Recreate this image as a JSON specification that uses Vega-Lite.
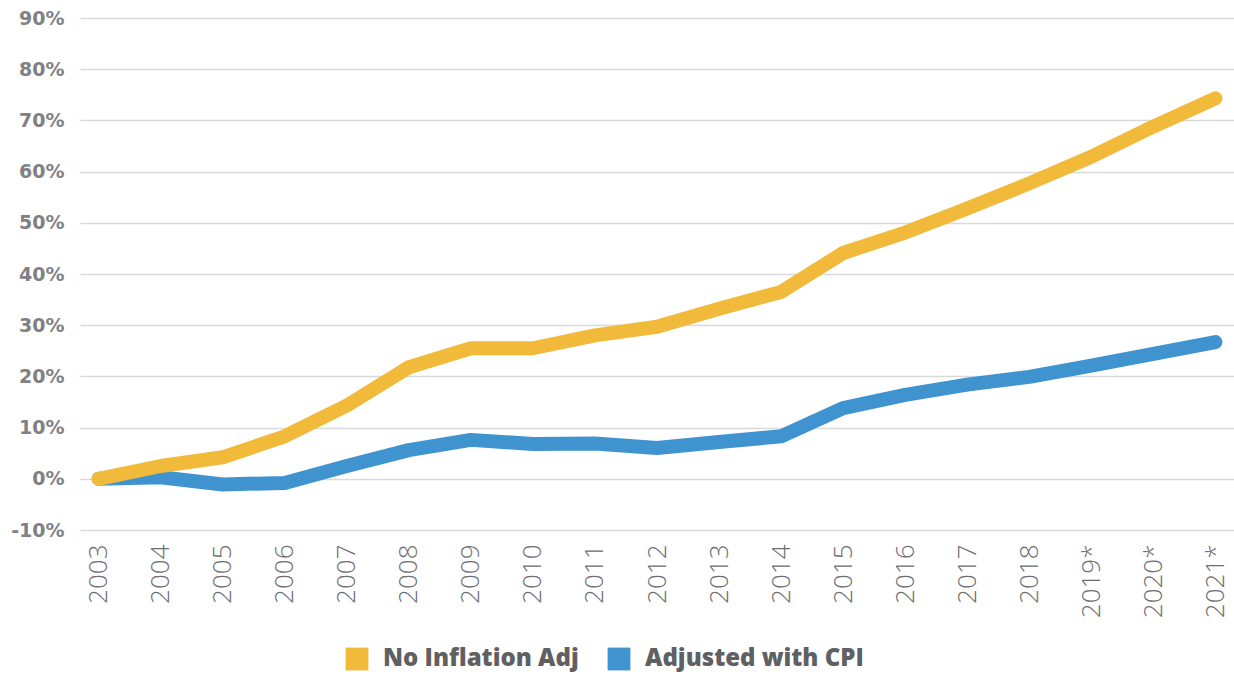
{
  "$schema": "https://vega.github.io/schema/vega-lite/v6.json",
  "width": 1154,
  "height": 512,
  "autosize": "none",
  "padding": {"left": 80, "top": 18, "right": 0, "bottom": 146},
  "background": "white",
  "config": {"view": {"stroke": null}, "font": "Open Sans"},
  "data": {"values": [
    {"year": "2003", "series": "No Inflation Adj", "value": 0.0},
    {"year": "2004", "series": "No Inflation Adj", "value": 0.025},
    {"year": "2005", "series": "No Inflation Adj", "value": 0.042},
    {"year": "2006", "series": "No Inflation Adj", "value": 0.083},
    {"year": "2007", "series": "No Inflation Adj", "value": 0.143},
    {"year": "2008", "series": "No Inflation Adj", "value": 0.218},
    {"year": "2009", "series": "No Inflation Adj", "value": 0.255},
    {"year": "2010", "series": "No Inflation Adj", "value": 0.255},
    {"year": "2011", "series": "No Inflation Adj", "value": 0.28},
    {"year": "2012", "series": "No Inflation Adj", "value": 0.297},
    {"year": "2013", "series": "No Inflation Adj", "value": 0.332},
    {"year": "2014", "series": "No Inflation Adj", "value": 0.365},
    {"year": "2015", "series": "No Inflation Adj", "value": 0.441},
    {"year": "2016", "series": "No Inflation Adj", "value": 0.481},
    {"year": "2017", "series": "No Inflation Adj", "value": 0.528},
    {"year": "2018", "series": "No Inflation Adj", "value": 0.577},
    {"year": "2019*", "series": "No Inflation Adj", "value": 0.629},
    {"year": "2020*", "series": "No Inflation Adj", "value": 0.688},
    {"year": "2021*", "series": "No Inflation Adj", "value": 0.743},
    {"year": "2003", "series": "Adjusted with CPI", "value": 0.0},
    {"year": "2004", "series": "Adjusted with CPI", "value": 0.003},
    {"year": "2005", "series": "Adjusted with CPI", "value": -0.011},
    {"year": "2006", "series": "Adjusted with CPI", "value": -0.008},
    {"year": "2007", "series": "Adjusted with CPI", "value": 0.025},
    {"year": "2008", "series": "Adjusted with CPI", "value": 0.056},
    {"year": "2009", "series": "Adjusted with CPI", "value": 0.076},
    {"year": "2010", "series": "Adjusted with CPI", "value": 0.068},
    {"year": "2011", "series": "Adjusted with CPI", "value": 0.069},
    {"year": "2012", "series": "Adjusted with CPI", "value": 0.06},
    {"year": "2013", "series": "Adjusted with CPI", "value": 0.072},
    {"year": "2014", "series": "Adjusted with CPI", "value": 0.083},
    {"year": "2015", "series": "Adjusted with CPI", "value": 0.138},
    {"year": "2016", "series": "Adjusted with CPI", "value": 0.164},
    {"year": "2017", "series": "Adjusted with CPI", "value": 0.184},
    {"year": "2018", "series": "Adjusted with CPI", "value": 0.199},
    {"year": "2019*", "series": "Adjusted with CPI", "value": 0.221},
    {"year": "2020*", "series": "Adjusted with CPI", "value": 0.244},
    {"year": "2021*", "series": "Adjusted with CPI", "value": 0.267}
  ]},
  "encoding": {
    "x": {
      "field": "year", "type": "ordinal", "sort": null,
      "scale": {"type": "point", "padding": 0.3},
      "axis": {
        "title": null, "labelAngle": -90, "labelFontSize": 26, "labelColor": "#6d6e71",
        "labelFontWeight": 300, "labelPadding": 14, "domain": false, "ticks": false, "grid": false
      }
    },
    "y": {
      "field": "value", "type": "quantitative",
      "scale": {"domain": [-0.1, 0.9], "nice": false, "zero": false},
      "axis": {
        "title": null, "format": ".0%", "values": [-0.1, 0, 0.1, 0.2, 0.3, 0.4, 0.5, 0.6, 0.7, 0.8, 0.9],
        "labelExpr": "replace(datum.label, '\u2212', '-')",
        "labelFont": "DejaVu Sans", "labelFontSize": 19, "labelFontWeight": "bold", "labelColor": "#808184", "labelPadding": 16,
        "domain": false, "ticks": false, "grid": true, "gridColor": "#d9d9d9", "gridWidth": 1.5
      }
    },
    "color": {
      "field": "series", "type": "nominal",
      "scale": {"domain": ["No Inflation Adj", "Adjusted with CPI"], "range": ["#F1BA3A", "#3F93CE"]},
      "legend": {
        "title": null, "orient": "none", "legendX": 265, "legendY": 629, "direction": "horizontal",
        "symbolType": "square", "symbolSize": 520, "symbolStrokeWidth": 0,
        "labelFontSize": 24, "labelFontWeight": 800, "labelColor": "#5f6062", "labelOffset": 14,
        "columnPadding": 28, "labelLimit": 400,
        "encode": {"symbols": {"update": {"fill": {"scale": "color", "field": "value"}, "strokeWidth": {"value": 0}}}}
      }
    }
  },
  "layer": [
    {
      "transform": [{"filter": "datum.series === 'Adjusted with CPI'"}],
      "mark": {"type": "line", "strokeWidth": 14, "strokeCap": "round", "strokeJoin": "round"}
    },
    {
      "transform": [{"filter": "datum.series === 'No Inflation Adj'"}],
      "mark": {"type": "line", "strokeWidth": 14, "strokeCap": "round", "strokeJoin": "round"}
    }
  ]
}
